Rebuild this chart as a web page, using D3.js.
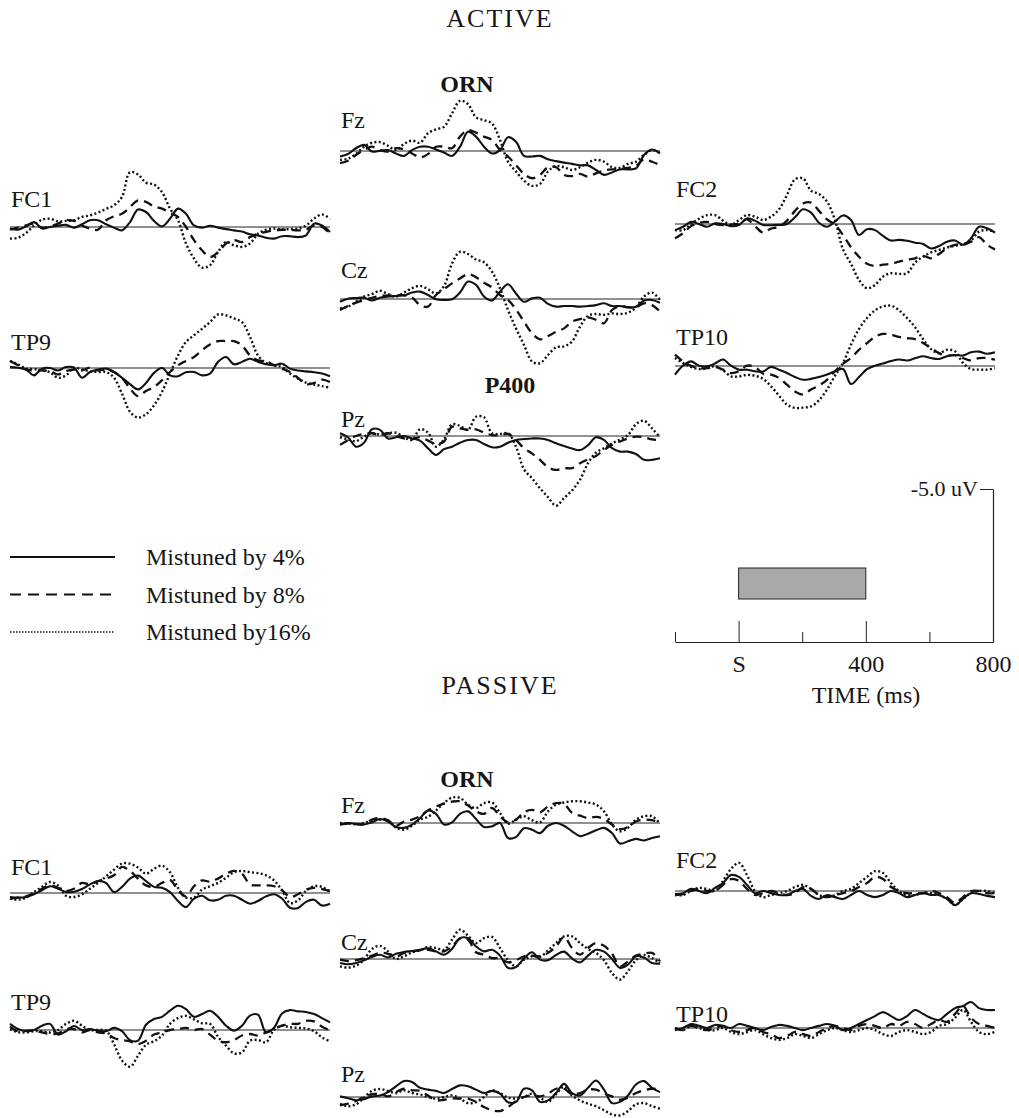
<!DOCTYPE html>
<html>
<head>
<meta charset="utf-8">
<script src="https://cdn.jsdelivr.net/npm/d3@7"></script>
<style>
  body { margin: 0; background: #fff; }
  svg text { font-family: "Liberation Serif", "Times New Roman", serif; fill: #161616; }
</style>
</head>
<body>
<svg id="chart" width="1019" height="1118"></svg>
<script>
// sampling grid, ms
const times = [-200, -175, -150, -125, -100, -75, -50, -25, 0, 25, 50, 75, 100, 125, 150, 175, 200, 225, 250, 275,
               300, 325, 350, 375, 400, 425, 450, 475, 500, 525, 550, 575, 600, 625, 650, 675, 700, 725, 750, 775, 800];
const seriesNames = ['Mistuned by 4%', 'Mistuned by 8%', 'Mistuned by16%'];
const scaleTicks = [-200, 0, 200, 400, 600, 800];
const scaleTickLabels = ['', 'S', '', '400', '', '800'];
const stimulus = [0, 400];

// amplitudes in uV, negative plotted up
// ACTIVE
const actFC1_4  = [0.05,0.09,-0.02,-0.16,0.05,0,-0.04,-0.07,0.02,-0.09,-0.22,-0.22,-0.09,0.02,0.11,-0.16,-0.57,-0.49,-0.2,-0.02,-0.27,-0.6,-0.43,-0.05,0.02,-0.04,0.02,0.07,0.11,0.15,0.24,0.28,0.35,0.38,0.3,0.3,0.33,0.27,-0.11,-0.05,0.16];
const actFC1_8  = [0.09,0.02,-0.05,-0.11,0.02,-0.02,-0.11,-0.22,-0.2,-0.05,0.05,0.09,-0.22,-0.35,-0.43,-0.65,-0.87,-0.82,-0.67,-0.6,-0.46,-0.33,0,0.43,0.76,0.98,0.82,0.54,0.43,0.49,0.33,0.22,0.16,0.11,0.09,0.09,0.11,0.09,-0.05,0,0.22];
const actFC1_16 = [0.38,0.35,0.2,-0.05,-0.24,-0.27,-0.18,-0.2,-0.22,-0.33,-0.38,-0.47,-0.59,-0.71,-0.98,-1.79,-1.72,-1.45,-1.39,-1.14,-0.6,-0.22,0.54,1.03,1.33,1.25,0.82,0.49,0.6,0.65,0.54,0.22,0.09,0.05,0.08,0.07,0.05,-0.05,-0.27,-0.41,-0.27];

const actTP9_4  = [-0.03,-0.01,0.05,0.24,0.02,0,0.08,-0.03,-0.01,0.32,0.13,0.05,0.02,0.13,0.32,0.53,0.7,0.49,0.16,0,0.24,0.27,0.14,0.13,0.24,0.18,-0.2,-0.36,-0.12,-0.2,-0.3,-0.2,-0.12,-0.09,-0.14,0.02,0.08,0.11,0.14,0.18,0.27];
const actTP9_8  = [-0.23,-0.09,0.05,0.08,0.08,0.1,0.21,0.1,0.05,0.08,-0.01,0.08,0.05,0.13,0.32,0.67,0.92,0.75,0.62,0.4,0.13,-0.09,-0.23,-0.36,-0.58,-0.77,-0.88,-0.88,-0.88,-0.74,-0.41,-0.25,-0.22,-0.09,0.02,0.13,0.32,0.53,0.49,0.38,0.46];
const actTP9_16 = [-0.23,-0.12,0.02,0.03,0.08,0.14,0.32,0.24,-0.01,0.05,0.11,0.13,0.13,0.32,0.84,1.43,1.62,1.51,1.22,0.78,0.18,-0.41,-0.85,-1.07,-1.28,-1.5,-1.75,-1.72,-1.62,-1.5,-1.01,-0.41,-0.16,-0.09,-0.03,0.18,0.35,0.48,0.54,0.59,0.64];

const actFz_4  = [0.18,0.1,-0.09,-0.2,0.02,-0.01,-0.03,0.08,0.16,-0.03,-0.14,-0.14,-0.05,0.05,0.16,-0.14,-0.63,-0.47,-0.14,0.08,-0.03,-0.45,-0.3,0.16,0.18,0.16,0.27,0.33,0.38,0.42,0.47,0.47,0.62,0.78,0.7,0.6,0.6,0.57,0.13,-0.05,0.08];
const actFz_8  = [0.4,0.32,0.13,-0.03,-0.14,-0.03,0.02,-0.09,-0.05,0.08,0.21,0.1,-0.14,-0.14,-0.09,-0.47,-0.68,-0.6,-0.47,-0.36,-0.03,0.18,0.46,0.75,0.89,0.78,0.53,0.53,0.78,0.82,0.75,0.84,0.73,0.64,0.6,0.58,0.55,0.49,0.27,0.35,0.46];
const actFz_16 = [0.29,0.25,0.1,-0.14,-0.27,-0.29,-0.17,-0.03,-0.23,-0.34,-0.27,-0.58,-0.71,-0.79,-1.23,-1.64,-1.53,-1.1,-1.01,-0.9,-0.36,0.35,0.67,0.97,1.14,1.08,0.67,0.49,0.53,0.62,0.53,0.38,0.29,0.35,0.53,0.55,0.42,0.35,0.13,-0.03,0.08];

const actCz_4  = [0.09,-0.01,-0.03,-0.04,0.05,-0.04,-0.08,-0.1,-0.12,-0.21,-0.24,-0.13,0.01,0.03,0.01,-0.21,-0.57,-0.46,-0.08,0.05,-0.24,-0.48,-0.18,0.09,-0.02,-0.04,0.16,0.25,0.23,0.23,0.25,0.23,0.2,0.14,0.23,0.23,0.27,0.25,0.05,0.03,0.12];
const actCz_8  = [0.36,0.23,0.12,0.03,-0.04,-0.1,-0.12,-0.12,-0.12,-0.05,0.2,0.25,-0.13,-0.32,-0.51,-0.67,-0.82,-0.71,-0.53,-0.38,-0.13,0.03,0.34,0.74,1.12,1.32,1.21,1.07,0.96,0.74,0.66,0.6,0.68,0.79,0.36,0.23,0.27,0.27,0.14,0.2,0.41];
const actCz_16 = [0.3,0.25,0.09,-0.08,-0.16,-0.27,-0.16,-0.08,-0.21,-0.35,-0.43,-0.32,-0.18,-0.42,-1.16,-1.54,-1.47,-1.29,-1.2,-0.89,-0.35,0.36,0.96,1.5,2.04,2.1,1.83,1.58,1.55,1.39,0.9,0.55,0.49,0.52,0.47,0.49,0.45,0.27,-0.08,-0.21,0.03];

const actPz_4  = [-0.09,0.04,0.35,0.22,-0.22,-0.2,0.08,0.04,0,0.08,0.15,0.4,0.62,0.43,0.35,0.22,0.13,0.13,0.26,0.37,0.35,0.22,0.13,0.1,0.08,0.08,0.13,0.24,0.33,0.41,0.46,0.3,0.04,0.13,0.4,0.51,0.51,0.59,0.78,0.78,0.73];
const actPz_8  = [0.29,0.13,0,-0.07,-0.09,-0.03,-0.09,0,0.08,0.11,0.04,0.15,0.26,0.18,-0.3,-0.25,-0.2,-0.22,-0.11,-0.03,-0.03,-0.07,0.13,0.4,0.57,0.78,1.02,1.11,1.05,1.05,0.89,0.76,0.65,0.46,0.29,0.18,0.08,0.02,0.04,0.11,0.13];
const actPz_16 = [0.04,0.11,0.17,0.02,-0.09,-0.05,-0.09,-0.11,0.04,0.13,-0.22,-0.11,0.35,0.11,-0.38,-0.33,-0.2,-0.63,-0.61,-0.09,-0.07,-0.09,0.35,1.09,1.38,1.71,2,2.28,2.03,1.78,1.43,0.89,0.54,0.4,0.24,0.11,-0.03,-0.39,-0.5,-0.25,0.04];

const actFC2_4  = [0.2,0.09,-0.07,0,0.09,-0.02,0,0.07,0.03,-0.18,-0.11,0.03,0.04,0.03,0,-0.22,-0.48,-0.37,-0.04,0.09,-0.08,-0.28,-0.13,0.36,0.17,0.2,0.39,0.54,0.52,0.55,0.61,0.65,0.8,0.72,0.58,0.54,0.68,0.47,0.09,0.14,0.28];
const actFC2_8  = [0.47,0.3,0.07,-0.04,-0.07,0,0.04,0.02,-0.02,-0.15,0.07,0.28,0.15,0.09,-0.11,-0.43,-0.67,-0.7,-0.43,-0.15,0.03,0.36,0.76,1.07,1.3,1.37,1.33,1.3,1.23,1.17,1.12,1.04,1.12,0.98,0.79,0.68,0.68,0.58,0.43,0.68,0.83];
const actFC2_16 = [0.2,0.2,0,-0.17,-0.29,-0.29,-0.11,0.03,-0.13,-0.29,-0.24,-0.13,-0.24,-0.48,-0.95,-1.46,-1.49,-1.09,-0.98,-0.73,-0.13,0.83,1.3,1.83,2.1,1.99,1.72,1.61,1.63,1.61,1.26,1.07,0.93,0.85,0.77,0.71,0.66,0.54,0.25,0.2,0.25];

const actTP10_4  = [0.28,-0.01,-0.15,-0.01,0.01,-0.08,-0.21,-0.01,0.12,0.12,0.17,0.18,0.03,0.12,0.23,0.36,0.45,0.42,0.36,0.28,0.17,0.1,0.59,0.36,0.1,-0.01,-0.08,-0.16,-0.21,-0.18,-0.25,-0.32,-0.26,-0.23,-0.32,-0.36,-0.34,-0.45,-0.47,-0.4,-0.45];
const actTP10_8  = [-0.37,-0.15,-0.01,0.07,0.07,0.03,0.12,0.23,0.17,-0.01,0.03,0.25,0.28,0.39,0.61,0.83,0.93,0.77,0.64,0.45,0.17,-0.08,-0.26,-0.53,-0.75,-0.95,-1.05,-1.02,-0.95,-0.91,-0.88,-0.75,-0.59,-0.42,-0.34,-0.35,-0.26,-0.18,-0.26,-0.26,-0.21];
const actTP10_16 = [-0.26,-0.1,0.03,0.1,0.07,0.01,0.14,0.34,0.34,0.29,0.32,0.42,0.66,0.97,1.26,1.37,1.36,1.32,1.12,0.77,0.32,-0.1,-0.7,-1.21,-1.57,-1.82,-1.95,-1.97,-1.82,-1.57,-1.27,-0.88,-0.55,-0.42,-0.53,-0.48,-0.1,0.1,0.12,0.12,0.07];

// PASSIVE
const pasFC1_4  = [0.13,0.15,0.13,0.04,-0.09,-0.22,-0.14,-0.03,-0.04,-0.13,-0.28,-0.39,-0.33,-0.03,-0.2,-0.47,-0.57,-0.39,-0.2,-0.17,-0.03,0.26,0.46,0.18,0.09,0.24,0.22,0.09,0.09,0.22,0.35,0.26,0.11,0.04,0.18,0.48,0.49,0.29,0.22,0.41,0.35];
const pasFC1_8  = [0.18,0.15,0.11,0,-0.14,-0.25,-0.17,-0.07,-0.14,-0.33,-0.28,-0.39,-0.47,-0.58,-0.85,-0.72,-0.47,-0.25,-0.2,-0.33,-0.43,-0.09,0.11,-0.22,-0.41,-0.37,-0.47,-0.63,-0.72,-0.63,-0.28,-0.25,-0.25,-0.22,-0.09,0.13,0.04,-0.11,-0.17,-0.13,-0.07];
const pasFC1_16 = [0.18,0.22,0.15,-0.03,-0.2,-0.36,-0.25,0.09,0.13,0.04,-0.14,-0.33,-0.54,-0.76,-0.96,-0.96,-0.83,-0.63,-0.79,-0.89,-0.68,-0.17,0.15,0.15,-0.11,-0.22,-0.33,-0.5,-0.68,-0.72,-0.68,-0.65,-0.58,-0.41,-0.09,0.33,0.24,-0.07,-0.22,-0.2,-0.03];

const pasTP9_4  = [-0.2,-0.03,0.04,0,-0.14,-0.2,0.15,0.04,-0.13,0,-0.03,0.02,0.04,-0.07,0.04,0.33,0.35,-0.17,-0.36,-0.43,-0.63,-0.79,-0.68,-0.43,-0.52,-0.63,-0.43,-0.14,0.02,-0.14,-0.47,-0.5,0.08,-0.07,-0.54,-0.65,-0.61,-0.59,-0.52,-0.39,-0.25];
const pasTP9_8  = [-0.11,0.04,0.02,0.02,0.08,0.13,0.11,-0.03,-0.03,0.08,0,0.08,0.11,0.26,0.33,0.37,0.46,0.35,0.15,0.08,0,-0.03,-0.07,0,-0.03,0.15,0.35,0.4,0.33,0.18,0.13,0.18,0.08,-0.03,-0.14,-0.2,-0.2,-0.3,-0.28,-0.11,0.02];
const pasTP9_16 = [-0.03,0.07,0.08,0.04,0.04,0.08,0,-0.2,-0.3,-0.14,0,0,0.02,0.46,1,1.2,0.84,0.48,0.37,0.18,-0.2,-0.39,-0.46,-0.35,-0.22,-0.2,0.22,0.51,0.76,0.73,0.35,0.33,0.4,0,-0.14,-0.09,-0.07,-0.05,0.04,0.24,0.37];

const pasFz_4  = [0.05,0,0.03,0.05,-0.02,-0.13,-0.05,0.13,0.16,0.05,-0.16,-0.41,-0.3,0.05,-0.02,-0.3,-0.38,-0.13,0.13,0.11,0,0.49,0.46,0.17,0.22,0.33,0.09,0,0.09,0.27,0.43,0.35,0.24,0.16,0.33,0.67,0.6,0.52,0.57,0.49,0.43];
const pasFz_8  = [0.05,0.02,0.04,0.04,-0.11,-0.16,-0.09,0.09,-0.05,-0.11,-0.22,-0.41,-0.54,-0.63,-0.7,-0.71,-0.57,-0.38,-0.3,-0.49,-0.22,-0.02,-0.11,-0.35,-0.43,-0.35,-0.54,-0.65,-0.63,-0.33,-0.24,-0.16,-0.2,-0.13,0.05,0.2,0.13,-0.05,-0.11,-0.09,0];
const pasFz_16 = [0,0.02,0.04,0,-0.08,-0.11,-0.09,0.15,0.22,0.09,-0.11,-0.2,-0.41,-0.65,-0.83,-0.82,-0.6,-0.49,-0.65,-0.67,-0.33,0.02,-0.11,-0.22,-0.09,-0.02,-0.38,-0.6,-0.67,-0.71,-0.71,-0.67,-0.6,-0.38,0.05,0.27,0.16,-0.11,-0.22,-0.22,0.02];

const pasCz_4  = [0.13,0.17,0.13,0.04,-0.07,-0.14,-0.05,-0.17,-0.23,-0.26,-0.3,-0.35,-0.25,-0.14,-0.33,-0.68,-0.68,-0.41,-0.25,-0.3,-0.11,0.29,0.26,-0.02,-0.22,0.02,0.04,-0.13,-0.24,-0.02,0.11,-0.11,-0.3,-0.24,0,0.29,0.18,-0.09,-0.05,0.13,0.15];
const pasCz_8  = [0.02,0.07,0.04,-0.03,-0.11,-0.2,-0.17,-0.07,-0.2,-0.25,-0.28,-0.3,-0.25,-0.25,-0.41,-0.67,-0.63,-0.22,-0.14,-0.03,-0.02,0.11,0.04,-0.09,-0.11,-0.09,-0.2,-0.41,-0.72,-0.36,-0.14,-0.36,-0.52,-0.43,-0.17,0.24,0.08,-0.11,-0.17,-0.2,0.08];
const pasCz_16 = [0.24,0.28,0.22,0.02,-0.33,-0.43,-0.25,0,-0.09,-0.22,-0.28,-0.39,-0.36,-0.3,-0.63,-0.96,-0.76,-0.52,-0.68,-0.72,-0.36,0.04,0.24,0.02,-0.09,-0.07,-0.28,-0.52,-0.74,-0.74,-0.52,-0.33,-0.2,0.04,0.46,0.67,0.4,0.04,-0.13,-0.03,0.13];

const pasPz_4  = [-0.02,0.04,0.11,0.07,-0.02,-0.05,-0.16,-0.35,-0.52,-0.49,-0.3,-0.24,-0.2,-0.13,-0.26,-0.38,-0.35,-0.24,-0.13,-0.2,-0.11,0.17,0.16,-0.27,-0.22,0.16,0.11,-0.13,-0.43,-0.13,-0.05,-0.3,-0.54,-0.24,0.2,0.16,-0.05,-0.41,-0.52,-0.3,-0.16];
const pasPz_8  = [0.27,0.22,0.13,0,-0.09,-0.11,-0.02,-0.16,-0.27,-0.22,-0.2,-0.05,0.11,0.09,0.05,0.05,0.05,0.16,0.33,0.43,0.46,0.33,0.13,0,-0.05,-0.02,-0.11,-0.27,-0.27,-0.09,-0.13,-0.24,-0.24,-0.11,-0.02,0.09,0.02,-0.13,-0.22,-0.27,-0.24];
const pasPz_16 = [0.22,0.3,0.24,0.02,-0.2,-0.26,-0.2,-0.13,-0.22,-0.13,-0.08,0,0.05,0,-0.05,0.05,0.2,0.17,0,-0.22,-0.13,0.02,0.05,0,-0.11,0.02,0.16,-0.09,-0.33,-0.05,0.11,0.22,0.3,0.43,0.57,0.6,0.46,0.24,0.2,0.3,0.38];

const pasFC2_4  = [0.1,0.07,-0.07,0,0.07,-0.1,-0.26,-0.52,-0.46,-0.2,0.07,0,0.07,0.13,0.13,0,-0.07,0.16,0.26,0.13,0.2,0.26,0.13,0,0.13,0.2,0.13,0,0.07,0.2,0.13,0.07,0.13,0.13,0.26,0.46,0.26,0.07,0.1,0.16,0.2];
const pasFC2_8  = [0.13,0.1,0,-0.07,0,0,-0.2,-0.39,-0.33,-0.07,0.13,0.07,0,0.07,0.13,0.07,-0.13,-0.07,0.13,0.2,0.13,0.07,0,-0.13,-0.26,-0.46,-0.39,-0.13,0,0.07,0.07,0.07,0,0.07,0.2,0.39,0.2,0,0,0.07,0.07];
const pasFC2_16 = [0.13,0.13,0,-0.1,-0.07,0,-0.33,-0.72,-0.92,-0.52,0,0.2,0.13,0.07,0,-0.13,-0.2,-0.07,0.13,0.2,0.13,0,-0.07,-0.26,-0.46,-0.65,-0.59,-0.26,0,0.13,0.13,0.07,0.07,0.13,0.26,0.46,0.26,0.07,0,0,0.07];

const pasTP10_4  = [0.07,0,-0.13,-0.07,0,-0.1,-0.07,0,-0.13,-0.07,0,0.07,-0.03,-0.1,-0.07,0,0.07,0,-0.07,-0.13,-0.07,0.07,0,-0.13,-0.26,-0.39,-0.52,-0.39,-0.26,-0.39,-0.59,-0.46,-0.33,-0.26,-0.46,-0.65,-0.72,-0.85,-0.65,-0.59,-0.59];
const pasTP10_8  = [0,0.07,-0.07,0,0.07,0,-0.07,0.07,0.13,0.07,0,0.13,0.2,0.33,0.26,0.13,0.2,0.26,0.13,0,-0.07,0,0.07,-0.07,-0.13,-0.07,0,-0.13,-0.07,-0.2,-0.13,0,-0.13,-0.26,-0.2,-0.46,-0.72,-0.33,-0.13,-0.07,0];
const pasTP10_16 = [0,0.07,-0.07,0,0.07,0.07,0,0.13,0.2,0.13,0.07,0.2,0.33,0.39,0.33,0.2,0.26,0.33,0.2,0.07,0,0.07,0.13,0.07,0,0.07,0.2,0.26,0.13,0.07,0.13,0.2,0.13,-0.07,-0.13,-0.33,-0.59,-0.2,0.13,0.2,0.13];

const panels = [
  { label: 'FC1',  x0: 10,  base: 227,  ly: 207,  data: [actFC1_4, actFC1_8, actFC1_16] },
  { label: 'TP9',  x0: 10,  base: 368,  ly: 350,  data: [actTP9_4, actTP9_8, actTP9_16] },
  { label: 'Fz',   x0: 340, base: 151,  ly: 128,  data: [actFz_4, actFz_8, actFz_16] },
  { label: 'Cz',   x0: 340, base: 299,  ly: 278,  data: [actCz_4, actCz_8, actCz_16] },
  { label: 'Pz',   x0: 340, base: 436,  ly: 427,  data: [actPz_4, actPz_8, actPz_16] },
  { label: 'FC2',  x0: 675, base: 224,  ly: 197,  data: [actFC2_4, actFC2_8, actFC2_16] },
  { label: 'TP10', x0: 675, base: 366,  ly: 345,  data: [actTP10_4, actTP10_8, actTP10_16] },
  { label: 'FC1',  x0: 10,  base: 893,  ly: 875,  data: [pasFC1_4, pasFC1_8, pasFC1_16] },
  { label: 'TP9',  x0: 10,  base: 1030, ly: 1010, data: [pasTP9_4, pasTP9_8, pasTP9_16] },
  { label: 'Fz',   x0: 340, base: 823,  ly: 813,  data: [pasFz_4, pasFz_8, pasFz_16] },
  { label: 'Cz',   x0: 340, base: 959,  ly: 950,  data: [pasCz_4, pasCz_8, pasCz_16] },
  { label: 'Pz',   x0: 340, base: 1097, ly: 1082, data: [pasPz_4, pasPz_8, pasPz_16] },
  { label: 'FC2',  x0: 675, base: 891,  ly: 868,  data: [pasFC2_4, pasFC2_8, pasFC2_16] },
  { label: 'TP10', x0: 675, base: 1028, ly: 1022, data: [pasTP10_4, pasTP10_8, pasTP10_16] }
];

const pxPerUv = 30.6;
const lineStyles = [
  { dash: null,    width: 2.1 },
  { dash: '9,6',   width: 2.3 },
  { dash: '2,2.4', width: 2.4 }
];

const svg = d3.select('#chart');

panels.forEach(function(p) {
  const x = d3.scaleLinear().domain([-200, 800]).range([p.x0, p.x0 + 320]);
  const y = d3.scaleLinear().domain([-5, 5]).range([p.base - 5 * pxPerUv, p.base + 5 * pxPerUv]);
  const g = svg.append('g');

  g.append('line')
    .attr('x1', x(-200)).attr('x2', x(800))
    .attr('y1', y(0)).attr('y2', y(0))
    .attr('stroke', '#222').attr('stroke-width', 1);

  const line = d3.line()
    .x((d, i) => x(times[i]))
    .y(d => y(d))
    .curve(d3.curveCatmullRom.alpha(0.5));

  g.selectAll('path.trace')
    .data(p.data)
    .join('path')
      .attr('class', 'trace')
      .attr('d', line)
      .attr('fill', 'none')
      .attr('stroke', '#111')
      .attr('stroke-width', (d, i) => lineStyles[i].width)
      .attr('stroke-dasharray', (d, i) => lineStyles[i].dash);

  g.append('text')
    .attr('x', p.x0 + 1)
    .attr('y', p.ly)
    .style('font-size', '24px')
    .text(p.label);
});

// titles
const titles = [
  { t: 'ACTIVE',  x: 500, y: 27,  size: 26, bold: false, ls: 2 },
  { t: 'ORN',     x: 467, y: 92,  size: 24, bold: true,  ls: 0 },
  { t: 'P400',    x: 510, y: 393, size: 24, bold: true,  ls: 0 },
  { t: 'PASSIVE', x: 500, y: 694, size: 26, bold: false, ls: 2 },
  { t: 'ORN',     x: 467, y: 787, size: 24, bold: true,  ls: 0 },
  { t: 'TIME (ms)', x: 866, y: 703, size: 24, bold: false, ls: 0 }
];
svg.selectAll('text.title')
  .data(titles)
  .join('text')
    .attr('class', 'title')
    .attr('x', d => d.x)
    .attr('y', d => d.y)
    .attr('text-anchor', 'middle')
    .style('font-size', d => d.size + 'px')
    .style('font-weight', d => d.bold ? 'bold' : 'normal')
    .style('letter-spacing', d => d.ls + 'px')
    .text(d => d.t);

// legend
const legend = svg.append('g').attr('transform', 'translate(10,557)');
seriesNames.forEach(function(name, i) {
  const row = legend.append('g').attr('transform', 'translate(0,' + (i * 37.5) + ')');
  row.append('line')
    .attr('x1', 0).attr('x2', 105).attr('y1', 0).attr('y2', 0)
    .attr('stroke', '#111')
    .attr('stroke-width', i === 2 ? 1.6 : 2)
    .attr('stroke-dasharray', i === 0 ? null : (i === 1 ? '11,7' : '1.5,1.5'));
  row.append('text')
    .attr('x', 136).attr('y', 8)
    .style('font-size', '24px')
    .text(name);
});

// scale bar
const sx = d3.scaleLinear().domain([-200, 800]).range([675, 993]);
const sy = d3.scaleLinear().domain([-5, 0]).range([489, 642]);

svg.append('rect')
  .attr('x', sx(stimulus[0]))
  .attr('width', sx(stimulus[1]) - sx(stimulus[0]))
  .attr('y', 568).attr('height', 31)
  .attr('fill', '#a9a9a9')
  .attr('stroke', '#222').attr('stroke-width', 1);

const tallTicks = [0, 400];
const xAxis = svg.append('g')
  .attr('transform', 'translate(0,642)')
  .call(d3.axisBottom(sx)
    .tickValues(scaleTicks)
    .tickSizeOuter(0)
    .tickFormat((d, i) => scaleTickLabels[i]));
xAxis.selectAll('.tick line')
  .attr('y2', d => d === 800 ? 0 : (tallTicks.includes(d) ? -21 : -10))
  .attr('stroke', '#222');
xAxis.selectAll('.tick text')
  .attr('y', 30).attr('dy', 0)
  .style('font-size', '24px');
xAxis.attr('font-family', null).attr('font-size', null);
xAxis.select('.domain').attr('stroke', '#222').attr('stroke-width', 1.2);

const yAxis = svg.append('g')
  .attr('transform', 'translate(993,0)')
  .call(d3.axisLeft(sy)
    .tickValues([-5])
    .tickSizeInner(13)
    .tickSizeOuter(0)
    .tickFormat(d => d.toFixed(1) + ' uV'));
yAxis.attr('font-family', null).attr('font-size', null);
yAxis.selectAll('.tick text')
  .attr('x', -15).attr('dy', '0.3em')
  .style('font-size', '22px');
yAxis.selectAll('.tick line').attr('stroke', '#222');
yAxis.select('.domain').attr('stroke', '#222').attr('stroke-width', 1.2);
</script>
</body>
</html>
